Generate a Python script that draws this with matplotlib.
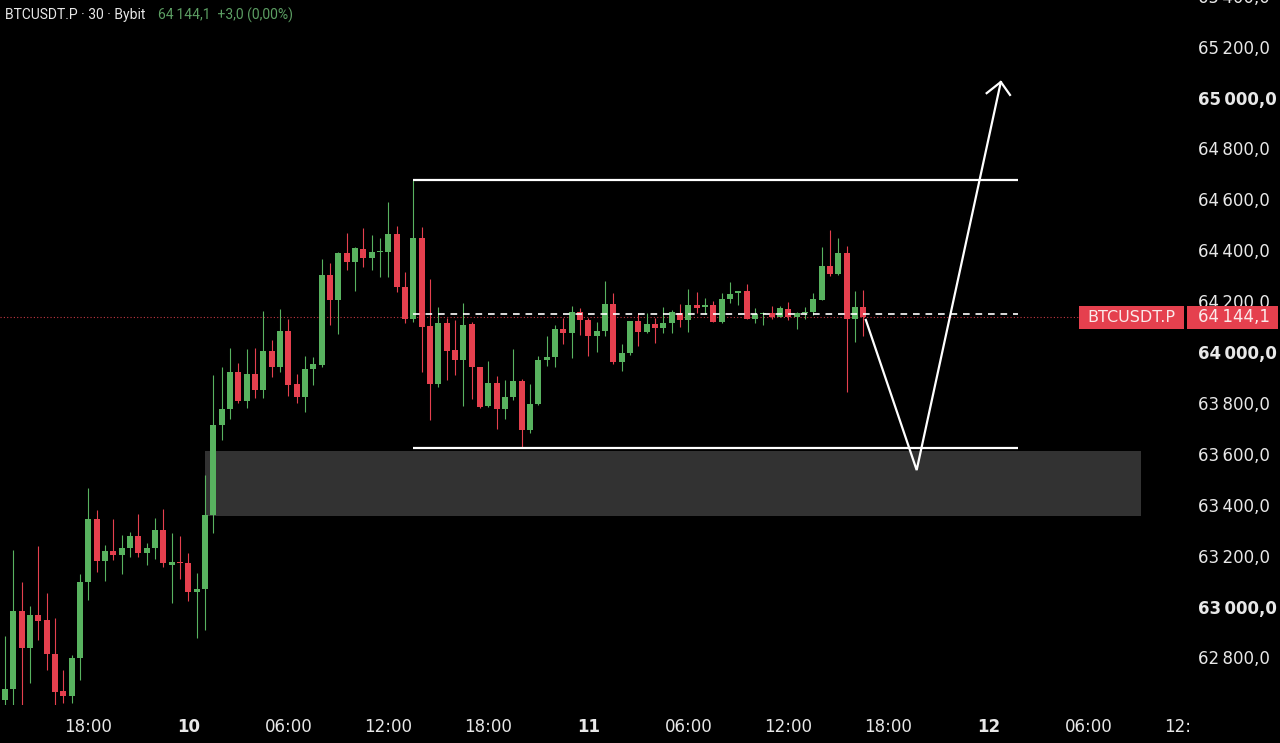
#!/usr/bin/env python3
# -*- coding: utf-8 -*-
"""
BTCUSDT.P 30分钟K线 + 盘整区间/支撑区示意
"""

import numpy as np
import matplotlib.pyplot as plt
from matplotlib.patches import Rectangle
from matplotlib.transforms import blended_transform_factory, Bbox

plt.rcParams['font.family'] = ['DejaVu Sans']

GREEN = '#58b25f'
RED = '#e5404e'
TEXT = '#e8e8e8'

# K线数据: 从 9日 13:00 开始, 每根 30 分钟
opens = [62641, 62684, 62990, 62845, 62975, 62955, 62821, 62676, 62656, 62806,
         63104, 63352, 63187, 63226, 63210, 63238, 63285, 63218, 63238, 63308,
         63171, 63183, 63178, 63065, 63077, 63367, 63721, 63784, 63929, 63815,
         63921, 63859, 64012, 63949, 64090, 63882, 63831, 63941, 63957, 64310,
         64212, 64397, 64361, 64412, 64377, 64401, 64401, 64471, 64263, 64138,
         64456, 64110, 63882, 64122, 64016, 63976, 64118, 63949, 63796, 63886,
         63784, 63831, 63894, 63701, 63804, 63976, 63988, 64098, 64083, 64165,
         64134, 64071, 64090, 64196, 63969, 64004, 64130, 64086, 64118, 64102,
         64122, 64161, 64134, 64193, 64185, 64193, 64126, 64216, 64240, 64248,
         64138, 64157, 64161, 64145, 64177, 64145, 64161, 64165, 64212, 64346,
         64314, 64397, 64138, 64185]
highs = [62892, 63230, 63104, 63010, 63246, 63061, 62963, 62758, 62817, 63136,
         63474, 63387, 63250, 63352, 63289, 63301, 63371, 63257, 63356, 63391,
         63297, 63285, 63218, 63140, 63525, 63917, 63949, 64024, 63965, 64020,
         64024, 64169, 64055, 64177, 64138, 63921, 63992, 63988, 64373, 64358,
         64401, 64475, 64420, 64495, 64468, 64456, 64597, 64503, 64322, 64684,
         64499, 64295, 64185, 64141, 64134, 64200, 64126, 63949, 63972, 63914,
         63898, 64020, 63902, 63882, 63992, 64071, 64114, 64141, 64189, 64181,
         64141, 64126, 64287, 64240, 64039, 64130, 64161, 64161, 64141, 64185,
         64173, 64196, 64255, 64244, 64220, 64208, 64240, 64283, 64248, 64275,
         64181, 64165, 64189, 64189, 64204, 64165, 64185, 64240, 64420, 64487,
         64456, 64424, 64248, 64251]
lows = [62600, 62600, 62600, 62707, 62876, 62758, 62600, 62630, 62630, 62719,
        63033, 63143, 63108, 63191, 63136, 63202, 63202, 63171, 63195, 63163,
        63022, 63116, 63030, 62884, 62916, 63297, 63662, 63745, 63807, 63788,
        63827, 63827, 63910, 63929, 63835, 63807, 63772, 63878, 63950, 64114,
        64079, 64330, 64248, 64342, 64330, 64303, 64303, 64244, 64122, 64126,
        63929, 63741, 63870, 63898, 63917, 63796, 63823, 63788, 63792, 63705,
        63745, 63819, 63631, 63690, 63800, 63953, 63949, 64039, 63984, 64075,
        63992, 64008, 64071, 63961, 63933, 63996, 64031, 64083, 64043, 64083,
        64083, 64106, 64086, 64161, 64157, 64126, 64122, 64200, 64193, 64138,
        64122, 64114, 64138, 64145, 64134, 64098, 64138, 64153, 64212, 64306,
        64310, 63851, 64047, 64071]
closes = [62684, 62990, 62845, 62975, 62951, 62821, 62672, 62656, 62806, 63104,
          63352, 63187, 63226, 63210, 63238, 63285, 63218, 63238, 63308, 63179,
          63183, 63178, 63065, 63077, 63367, 63721, 63784, 63929, 63815, 63921,
          63859, 64012, 63949, 64090, 63878, 63831, 63941, 63961, 64310, 64212,
          64397, 64361, 64416, 64377, 64401, 64405, 64471, 64263, 64138, 64456,
          64106, 63882, 64122, 64012, 63976, 64114, 63949, 63792, 63886, 63784,
          63831, 63894, 63701, 63804, 63976, 63988, 64098, 64083, 64165, 64134,
          64071, 64090, 64196, 63969, 64004, 64130, 64086, 64118, 64102, 64122,
          64165, 64134, 64193, 64181, 64193, 64126, 64216, 64236, 64248, 64138,
          64157, 64161, 64145, 64181, 64145, 64161, 64165, 64216, 64346, 64314,
          64397, 64138, 64185, 64144.1]

# 时间轴标签 (K线序号位置)
tick_pos = [10, 22, 34, 46, 58, 70, 82, 94, 106, 118, 130, 142]
tick_labels = ['18:00', '10', '06:00', '12:00', '18:00', '11',
               '06:00', '12:00', '18:00', '12', '06:00', '12:00']

# 价格轴
price_ticks = [62800, 63000, 63200, 63400, 63600, 63800, 64000,
               64200, 64400, 64600, 64800, 65000, 65200, 65400]

# 画线: 区间上下沿, 中线, 支撑区, 路径箭头
range_start, range_end = 49, 121.6
range_top, range_bottom = 64684, 63631
mid_level = 64157
zone_start, zone_end = 24.0, 136.3
zone_low, zone_high = 63364, 63619
path_x = [103.3, 109.4, 119.5]
path_y = [64134, 63544, 65069]
head_x = [117.8, 119.5, 120.6]
head_y = [65025, 65069, 65018]

o = np.array(opens)
h = np.array(highs)
l = np.array(lows)
c = np.array(closes)
x = np.arange(len(c))
colors = np.where(c >= o, GREEN, RED)
last = closes[-1]

fig = plt.figure(figsize=(12.8, 7.43), dpi=100, facecolor='black')
ax = fig.add_axes([0, 38 / 743, 1, 705 / 743])
ax.set_facecolor('black')
ax.set_xlim(-0.6, 153.0)
ax.set_ylim(62621, 65391)
for s in ax.spines.values():
    s.set_visible(False)
ax.tick_params(axis='y', left=False, labelleft=False)

# 支撑区
ax.add_patch(Rectangle((zone_start, zone_low), zone_end - zone_start,
                       zone_high - zone_low, facecolor='#323232',
                       edgecolor='none', zorder=1))

# K线
ax.vlines(x, l, h, colors=colors, linewidth=0.8, zorder=3)
body_bottom = np.minimum(o, c)
body_height = np.maximum(np.abs(c - o), 4)
ax.bar(x, body_height, bottom=body_bottom, width=0.72, color=colors,
       linewidth=0, zorder=3)

# 现价线
ax.axhline(last, xmin=0, xmax=1079 / 1280, color=RED, linestyle=(0, (1, 2)),
           linewidth=0.8, alpha=0.85, zorder=2)

# 区间
ax.hlines([range_top, range_bottom], range_start, range_end,
          colors='white', linewidth=1.6, zorder=4)
ax.hlines(mid_level, range_start, range_end, colors='white',
          linestyles=(0, (4, 3.5)), linewidth=1.2, zorder=4)

# 路径箭头
ax.plot(path_x, path_y, color='white', linewidth=1.6, zorder=5,
        solid_joinstyle='miter')
ax.plot(head_x, head_y, color='white', linewidth=1.6, zorder=5)

# x轴
ax.set_xticks(tick_pos)
ax.set_xticklabels(tick_labels)
ax.tick_params(axis='x', length=0, pad=9, labelsize=12, labelcolor=TEXT)
for lab, txt in zip(ax.get_xticklabels(), tick_labels):
    if txt in ('10', '11', '12'):
        lab.set_fontweight('bold')
last_lab = ax.get_xticklabels()[-1]
last_lab.set_clip_box(Bbox.from_extents(0, 0, 1189, 743))
last_lab.set_clip_on(True)

# y轴标签
trans = blended_transform_factory(ax.transAxes, ax.transData)
for p in price_ticks:
    txt = f'{p // 1000}\u2009{p % 1000:03d},0'
    bold = p % 1000 == 0
    ax.text(1198 / 1280, p, txt, transform=trans, ha='left', va='center',
            fontsize=12, color=TEXT, fontweight='bold' if bold else 'normal',
            clip_on=False, zorder=6)

# 现价标签
box_h = 90
ax.add_patch(Rectangle((1079 / 1280, last - box_h / 2), 105 / 1280, box_h,
                       transform=trans, facecolor=RED, edgecolor='none',
                       zorder=7, clip_on=False))
ax.add_patch(Rectangle((1187 / 1280, last - box_h / 2), 91 / 1280, box_h,
                       transform=trans, facecolor=RED, edgecolor='none',
                       zorder=7, clip_on=False))
ax.text(1131.5 / 1280, last, 'BTCUSDT.P', transform=trans, ha='center',
        va='center', fontsize=11.5, color='#fbeaea', zorder=8)
ax.text(1198 / 1280, last, '64\u2009144,1', transform=trans, ha='left',
        va='center', fontsize=12, color='#fbeaea', zorder=8)

# 左上角标题
fig.text(5 / 1280, 1 - 15 / 743, 'BTCUSDT.P · 30 · Bybit', ha='left',
         va='center', fontsize=10, color=TEXT, family=['Roboto', 'DejaVu Sans'])
fig.text(158 / 1280, 1 - 15 / 743, '64\u2009144,1  +3,0 (0,00%)', ha='left',
         va='center', fontsize=10, color='#5c9e63',
         family=['Roboto', 'DejaVu Sans'])

fig.savefig('out.png', dpi=100, facecolor='black')
